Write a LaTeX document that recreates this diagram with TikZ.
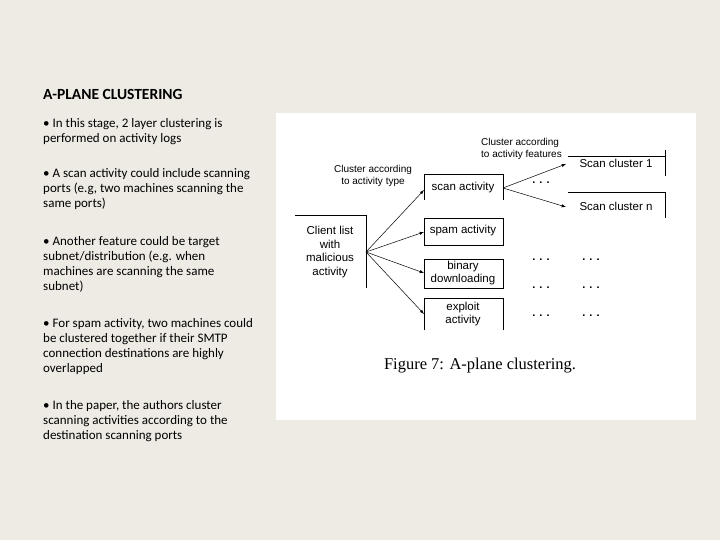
\documentclass[tikz,border=0pt]{standalone}
\usepackage{fontspec}
\setmainfont{Carlito}
\newfontfamily\figfont{Liberation Sans}
\newfontfamily\capfont{Liberation Serif}
\begin{document}
\begin{tikzpicture}[x=1pt,y=-1pt,
  txt/.style={anchor=north west,align=left,font=\fontsize{13}{15.2}\selectfont,inner sep=0},
  fig/.style={font=\figfont\fontsize{11.5}{13.5}\selectfont,inner sep=0,align=center},
  arr/.style={-latex,line width=0.5pt},
  edge/.style={line width=0.7pt}]
\fill[fill={rgb,255:red,238;green,235;blue,228}] (0,0) rectangle (720,540);
\useasboundingbox (0,0) rectangle (720,540);
\node[txt,font=\bfseries\fontsize{15.5}{18}\selectfont] (title) at (43,89) {A-PLANE CLUSTERING};
\node[txt] (b1) at (43,118) {• In this stage, 2 layer clustering is\\performed on activity logs};
\node[txt] (b2) at (43,168) {• A scan activity could include scanning\\ports (e.g, two machines scanning the\\same ports)};
\node[txt] (b3) at (43,236) {• Another feature could be target\\subnet/distribution (e.g. when\\machines are scanning the same\\subnet)};
\node[txt] (b4) at (43,318) {• For spam activity, two machines could\\be clustered together if their SMTP\\connection destinations are highly\\overlapped};
\node[txt] (b5) at (43,400) {• In the paper, the authors cluster\\scanning activities according to the\\destination scanning ports};
\fill[white] (276,113) rectangle (696,420);
% boxes
\draw[edge] (295,215) -- (366,215) -- (366,288);
\node[fig] (client) at (330,252) {Client list\\with\\malicious\\activity};
\coordinate (o) at (366,252);
\draw[edge] (424,200) -- (424,174) -- (503,174) -- (503,200);
\node[fig] (scan) at (463,188) {scan activity};
\draw[edge] (424,218) rectangle (503,245);
\node[fig] (spam) at (463,231) {spam activity};
\draw[edge] (424,259) rectangle (503,288);
\node[fig] (bin) at (463,273) {binary\\downloading};
\draw[edge] (424,330) -- (424,298) -- (503,298) -- (503,330);
\node[fig] (expl) at (463,314) {exploit\\activity};
\draw[edge] (568,156) -- (665,156) (665,150) -- (665,176);
\node[fig] (c1) at (616,163) {Scan cluster 1};
\draw[edge] (568,192) -- (665,192) -- (665,218);
\node[fig] (cn) at (616,206) {Scan cluster n};
\draw[arr] (o) -- (424,190);
\draw[arr] (o) -- (424,232);
\draw[arr] (o) -- (424,273);
\draw[arr] (o) -- (424,314);
\coordinate (s) at (503,188);
\draw[arr] (s) -- (566,164);
\draw[arr] (s) -- (566,207);
\node[fig,font=\figfont\fontsize{10}{12.5}\selectfont] (l1) at (373,176) {Cluster according\\to activity type};
\node[fig,font=\figfont\fontsize{10}{12.5}\selectfont,align=left,anchor=west] (l2) at (481,149) {Cluster according\\to activity features};
\foreach \x/\y [count=\i] in {541/183,541/260,591/260,541/288,591/288,541/316,591/316}
  \node[fig,font=\figfont\bfseries\fontsize{11}{11}\selectfont] (d\i) at (\x,\y) {. . .};
\node[font=\capfont\fontsize{16.5}{18}\selectfont,inner sep=0] (cap) at (480,366) {Figure 7: A-plane clustering.};
\end{tikzpicture}
\end{document}
